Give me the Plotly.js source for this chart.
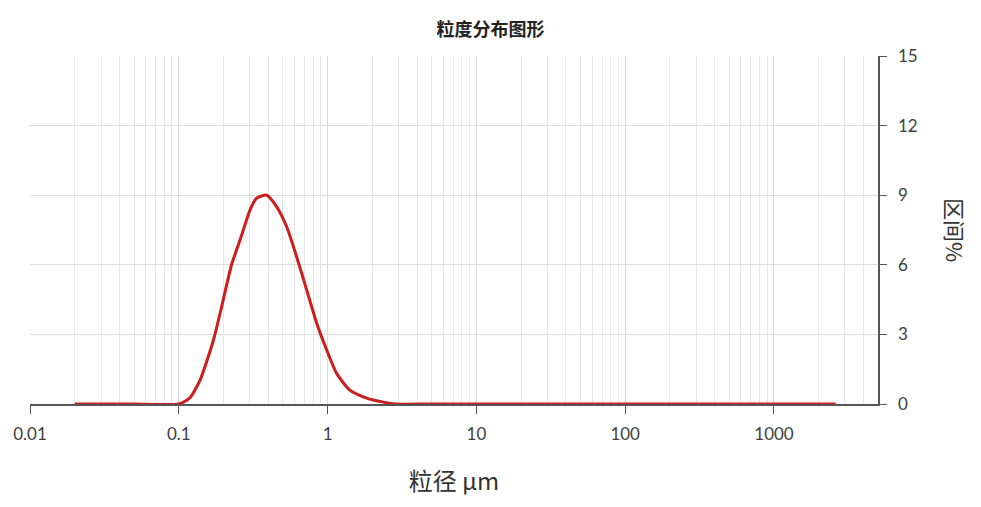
<!DOCTYPE html>
<html>
<head>
<meta charset="utf-8">
<script src="https://cdn.plot.ly/plotly-3.0.1.min.js"></script>
<style>html,body{margin:0;padding:0;background:#fff;}#chart{width:981px;height:507px;}</style>
</head>
<body>
<div id="chart"></div>
<script>
const sizes = [0.02, 0.05, 0.1, 0.118, 0.139, 0.171, 0.194, 0.226, 0.258, 0.301, 0.333, 0.39, 0.455, 0.531, 0.619, 0.724, 0.845, 0.986, 1.15, 1.41, 1.83, 2.37, 2.9, 5, 20, 100, 500, 2600];
const percents = [0, 0, 0, 0.25, 1.03, 2.76, 4.19, 5.99, 7.07, 8.36, 8.87, 9.0, 8.5, 7.64, 6.35, 4.91, 3.48, 2.33, 1.32, 0.6, 0.25, 0.08, 0, 0, 0, 0, 0, 0];
const xTickVals = [0.01, 0.1, 1, 10, 100, 1000];
const xTickText = ['0.01', '0.1', '1', '10', '100', '1000'];
const yTickVals = [0, 3, 6, 9, 12, 15];

const trace = {
  x: sizes, y: percents, type: 'scatter', mode: 'lines',
  line: {color: '#cc1e1e', width: 3, shape: 'spline', smoothing: 0.6},
  hoverinfo: 'x+y'
};

const layout = {
  width: 981, height: 507,
  margin: {l: 30, r: 103, t: 56, b: 103},
  paper_bgcolor: '#ffffff', plot_bgcolor: '#ffffff',
  showlegend: false,
  title: {
    text: '<b>粒度分布图形</b>', x: 0.5, xref: 'container', xanchor: 'center',
    y: 1 - 30/507, yref: 'container', yanchor: 'middle',
    font: {family: 'Noto Sans CJK SC', size: 18, color: '#222'}
  },
  xaxis: {
    type: 'log', range: [-2, Math.log10(5000)],
    tickvals: xTickVals, ticktext: xTickText,
    ticks: 'outside', ticklen: 8, tickcolor: '#555', tickwidth: 1,
    showline: true, linecolor: '#555', linewidth: 1.5,
    showgrid: true, gridcolor: '#d9d9d9', gridwidth: 1,
    minor: {dtick: 'D1', showgrid: true, gridcolor: '#e6e6e6', gridwidth: 1, ticks: ''},
    zeroline: false, ticklabelstandoff: 6,
    tickfont: {family: 'Lato, Open Sans, sans-serif', size: 17, color: '#404040'},
    title: {text: '粒径 μm', font: {family: 'Noto Sans CJK SC', size: 24, color: '#333'}, standoff: 30}
  },
  yaxis: {
    side: 'right', range: [0, 15], tickvals: yTickVals,
    ticks: 'outside', ticklen: 7, tickcolor: '#555', tickwidth: 1,
    showline: true, linecolor: '#555', linewidth: 1.5,
    showgrid: true, gridcolor: '#dcdcdc', gridwidth: 1,
    zeroline: false, ticklabelstandoff: 8,
    tickfont: {family: 'Lato, Open Sans, sans-serif', size: 17, color: '#404040'}
  },
  annotations: [{
    text: '区间%', xref: 'paper', yref: 'paper', x: 1, y: 0.5,
    xanchor: 'center', yanchor: 'middle', xshift: 78,
    textangle: 90, showarrow: false,
    font: {family: 'Noto Sans CJK SC', size: 22, color: '#333'}
  }]
};

Plotly.newPlot('chart', [trace], layout, {displayModeBar: false, staticPlot: true});
</script>
</body>
</html>
